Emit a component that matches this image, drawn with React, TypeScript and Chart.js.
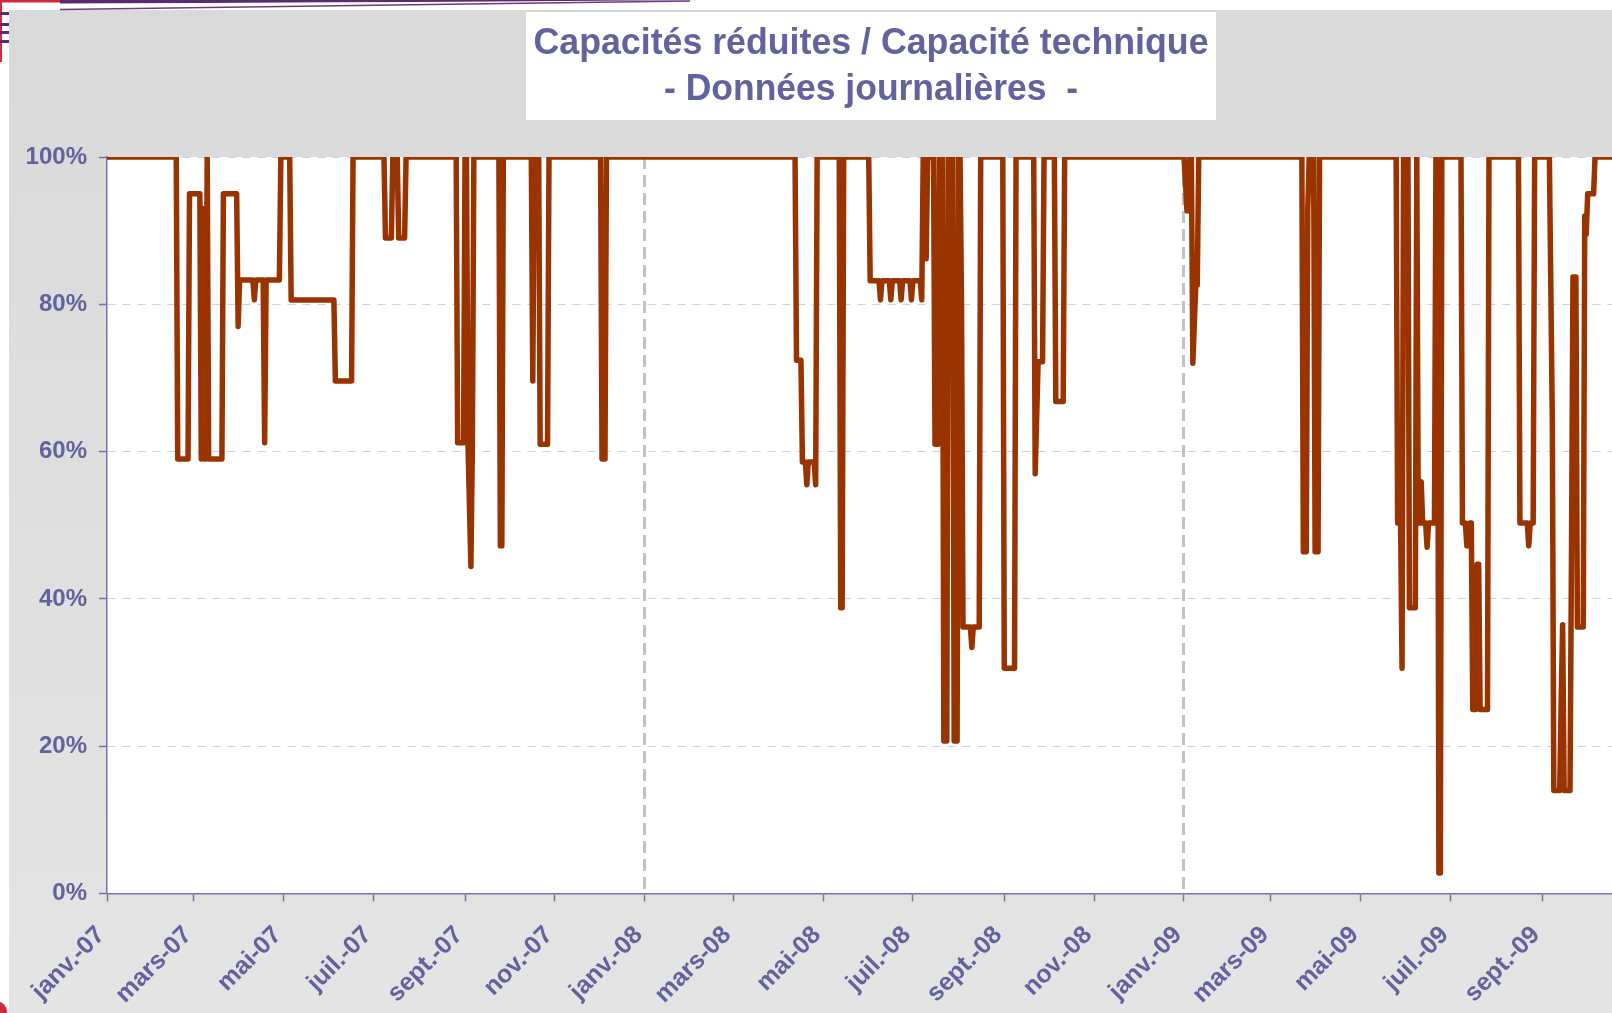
import React, { useEffect, useRef } from 'react';
import { Chart, registerables } from 'chart.js';

Chart.register(...registerables);

// Day index counted from 1 January 2007, value = reduced capacity / technical capacity (%)
const points2007: [number, number][] = [
  [0, 100], [47, 100], [48, 59], [55, 59], [56, 95], [63, 95], [64, 59], [65, 93], [66, 59], [67, 59],
  [68, 100], [69, 59], [78, 59], [79, 95], [88, 95], [89, 77], [90, 83.3], [99, 83.3], [100, 80.6],
  [101, 83.3], [106, 83.3], [107, 61.2], [108, 83.3], [117, 83.3], [118, 100], [124, 100], [125, 80.6],
  [154, 80.6], [155, 69.6], [166, 69.6], [167, 100], [188, 100], [189, 89], [193, 89], [194, 100],
  [197, 100], [198, 89], [202, 89], [203, 100], [237, 100], [238, 61.2], [242, 61.2], [243, 100],
  [244, 100], [245, 61.2], [247, 44.4], [248, 61.2], [249, 100], [266, 100], [267, 47.2], [268, 47.2],
  [269, 100], [288, 100], [289, 69.6], [290, 100], [293, 100], [294, 61], [299, 61], [300, 100],
  [335, 100], [336, 59], [338, 59], [339, 100],
];

const points2008: [number, number][] = [
  [467, 100], [468, 72.4], [471, 72.4], [472, 58.6], [474, 58.6], [475, 55.5], [476, 58.6], [480, 58.6],
  [481, 55.5], [482, 100], [497, 100], [498, 38.8], [499, 38.8], [500, 100], [517, 100], [518, 83.2],
  [524, 83.2], [525, 80.6], [526, 83.2], [531, 83.2], [532, 80.6], [533, 83.2], [538, 83.2], [539, 80.6],
  [540, 83.2], [545, 83.2], [546, 80.6], [547, 83.2], [552, 83.2], [553, 80.6], [554, 100], [555, 100],
  [556, 86.2], [557, 100], [561, 100], [562, 61], [564, 61], [565, 100], [567, 100], [568, 20.7],
  [570, 20.7], [571, 100], [574, 100], [575, 20.7], [577, 20.7], [578, 100], [579, 100], [580, 79.6],
  [581, 36.2], [586, 36.2], [587, 33.4], [588, 36.2], [592, 36.2], [593, 100], [608, 100], [609, 30.6],
  [616, 30.6], [617, 100], [629, 100], [630, 57], [632, 72.2], [635, 72.2], [636, 100], [643, 100],
  [644, 66.8], [649, 66.8], [650, 100],
];

const points2009: [number, number][] = [
  [731, 100], [732, 96.4], [733, 92.7], [734, 92.7], [735, 100], [736, 100], [737, 72], [739, 82.6],
  [740, 82.6], [741, 100], [811, 100], [812, 46.4], [814, 46.4], [815, 92.8], [816, 100], [819, 100],
  [820, 46.4], [822, 46.4], [823, 100], [875, 100], [876, 50.3], [878, 50.3], [879, 30.6], [880, 100],
  [883, 100], [884, 38.8], [888, 38.8], [889, 100], [890, 50.3], [891, 50.3], [892, 55.9], [893, 50.3],
  [895, 50.3], [896, 47], [897, 50.3], [901, 50.3], [902, 100], [903, 100], [904, 2.8], [905, 2.8],
  [906, 100], [919, 100], [920, 50.3], [922, 50.3], [923, 47.2], [924, 47.2], [925, 50.3], [926, 50.3],
  [927, 25], [929, 25], [930, 44.7], [931, 44.7], [932, 25], [937, 25], [938, 100], [958, 100],
  [959, 50.3], [964, 50.3], [965, 47.2], [966, 50.3], [968, 50.3], [969, 100], [979, 100], [981, 64],
  [982, 14], [986, 14], [987, 26], [988, 36.5], [989, 14], [993, 14], [994, 46], [995, 83.7], [997, 83.7],
  [998, 36.2], [1002, 36.2], [1003, 92], [1004, 89.5], [1005, 95], [1009, 95], [1010, 100], [1022, 100],
];

const monthTickDays = [0, 59, 120, 181, 243, 304, 365, 425, 486, 547, 609, 670, 731, 790, 851, 912, 974];
const monthTickLabels = [
  'janv.-07', 'mars-07', 'mai-07', 'juil.-07', 'sept.-07', 'nov.-07',
  'janv.-08', 'mars-08', 'mai-08', 'juil.-08', 'sept.-08', 'nov.-08',
  'janv.-09', 'mars-09', 'mai-09', 'juil.-09', 'sept.-09',
];
const yearStartDays = [365, 731];
const titleLines = ['Capacités réduites / Capacité technique', '- Données journalières  -'];

const W = 1612;
const H = 1013;
const TEXT = '#62629e';
const AXIS = '#7474a8';
const FONT = '"Liberation Sans", Arial, Helvetica, sans-serif';

const backdropPlugin = {
  id: 'backdrop',
  beforeDraw(chart: any) {
    const { ctx, chartArea, width, height } = chart;
    ctx.save();
    ctx.fillStyle = '#ffffff';
    ctx.fillRect(0, 0, width, height);
    const g = ctx.createLinearGradient(0, 10, 0, height);
    g.addColorStop(0, '#d9d9d9');
    g.addColorStop(1, '#e4e4e4');
    ctx.fillStyle = g;
    ctx.fillRect(9, 10, width - 9, height - 10);
    ctx.fillStyle = '#ffffff';
    ctx.fillRect(chartArea.left, chartArea.top, chartArea.right - chartArea.left, chartArea.bottom - chartArea.top);

    // slide decorations
    ctx.fillStyle = '#cf2a3e';
    ctx.fillRect(0, 0, 60, 2.5);
    ctx.fillRect(0, 0, 2, 62);
    ctx.beginPath();
    ctx.arc(-4, 1012, 11, 0, Math.PI * 2);
    ctx.fill();
    ctx.fillStyle = '#5a2a70';
    ctx.beginPath();
    ctx.moveTo(60, 0);
    ctx.lineTo(700, 0);
    ctx.quadraticCurveTo(450, 2, 60, 3.5);
    ctx.closePath();
    ctx.fill();
    ctx.strokeStyle = '#6a3a80';
    ctx.lineWidth = 1.5;
    ctx.beginPath();
    ctx.moveTo(60, 9.5);
    ctx.quadraticCurveTo(420, 6, 690, 1);
    ctx.stroke();
    for (const y of [12, 23, 31, 40]) ctx.fillRect(0, y, 9, 3);

    // title box
    ctx.fillStyle = '#ffffff';
    ctx.fillRect(526, 11, 690, 109);
    ctx.strokeStyle = '#d4d4d4';
    ctx.lineWidth = 1;
    ctx.beginPath();
    ctx.moveTo(526, 11.5);
    ctx.lineTo(1216, 11.5);
    ctx.stroke();
    ctx.fillStyle = TEXT;
    ctx.font = `bold 37px ${FONT}`;
    ctx.textAlign = 'center';
    ctx.textBaseline = 'alphabetic';
    const targets = [
      { w: 675, y: 54 },
      { w: 414, y: 100 },
    ];
    titleLines.forEach((t, i) => {
      const m = ctx.measureText(t).width;
      ctx.save();
      ctx.translate(871, targets[i].y);
      ctx.scale(targets[i].w / m, 1);
      ctx.fillText(t, 0, 0);
      ctx.restore();
    });
    ctx.restore();
  },
};

export default function App() {
  const ref = useRef<HTMLCanvasElement | null>(null);

  useEffect(() => {
    if (!ref.current) return;
    const all = [...points2007, ...points2008, ...points2009];
    const chart = new Chart(ref.current, {
      type: 'line',
      data: {
        datasets: [
          {
            data: all.map(([x, y]) => ({ x, y })),
            borderColor: '#993300',
            borderWidth: 5.5,
            borderCapStyle: 'round',
            borderJoinStyle: 'round',
            pointRadius: 0,
            tension: 0,
            fill: false,
            clip: { left: 0, top: 0, right: 0, bottom: 6 },
          } as any,
        ],
      },
      options: {
        animation: false,
        responsive: false,
        maintainAspectRatio: false,
        parsing: false,
        layout: { padding: { top: 157, left: 0, right: 0, bottom: 0 } },
        plugins: {
          legend: { display: false },
          tooltip: { enabled: false },
          title: { display: false },
        },
        scales: {
          x: {
            type: 'linear',
            min: 0,
            max: 1021.5,
            afterBuildTicks: (scale: any) => {
              scale.ticks = monthTickDays.map((v) => ({ value: v }));
            },
            afterFit: (scale: any) => {
              scale.height = H - 893.5;
            },
            ticks: {
              autoSkip: false,
              minRotation: 45,
              maxRotation: 45,
              padding: 19,
              labelOffset: -6,
              color: TEXT,
              font: { family: FONT, size: 25, weight: 'bold' },
              callback: (v: any) => {
                const i = monthTickDays.indexOf(Number(v));
                return i >= 0 ? monthTickLabels[i] : '';
              },
            },
            grid: {
              color: (c: any) => (c.tick && yearStartDays.includes(c.tick.value) ? '#c2c2c2' : 'rgba(0,0,0,0)'),
              lineWidth: 3,
              drawTicks: true,
              tickLength: 8,
              tickColor: AXIS,
              tickWidth: 1.5,
            },
            border: { display: true, color: AXIS, width: 1.5, dash: [12, 6] },
          },
          y: {
            type: 'linear',
            min: 0,
            max: 100,
            afterFit: (scale: any) => {
              scale.width = 107;
            },
            ticks: {
              stepSize: 20,
              padding: 12,
              color: TEXT,
              font: { family: FONT, size: 24, weight: 'bold' },
              callback: (v: any) => `${v}%`,
            },
            grid: {
              color: '#cdcdf3',
              lineWidth: 1,
              drawTicks: true,
              tickLength: 8,
              tickColor: AXIS,
              tickWidth: 1.5,
            },
            border: { display: true, color: AXIS, width: 1.5, dash: [8, 7] },
          },
        },
      } as any,
      plugins: [backdropPlugin],
    });
    return () => chart.destroy();
  }, []);

  return (
    <div style={{ position: 'absolute', left: 0, top: 0, width: W, height: H }}>
      <canvas ref={ref} width={W} height={H} style={{ display: 'block', width: W, height: H }} />
    </div>
  );
}
